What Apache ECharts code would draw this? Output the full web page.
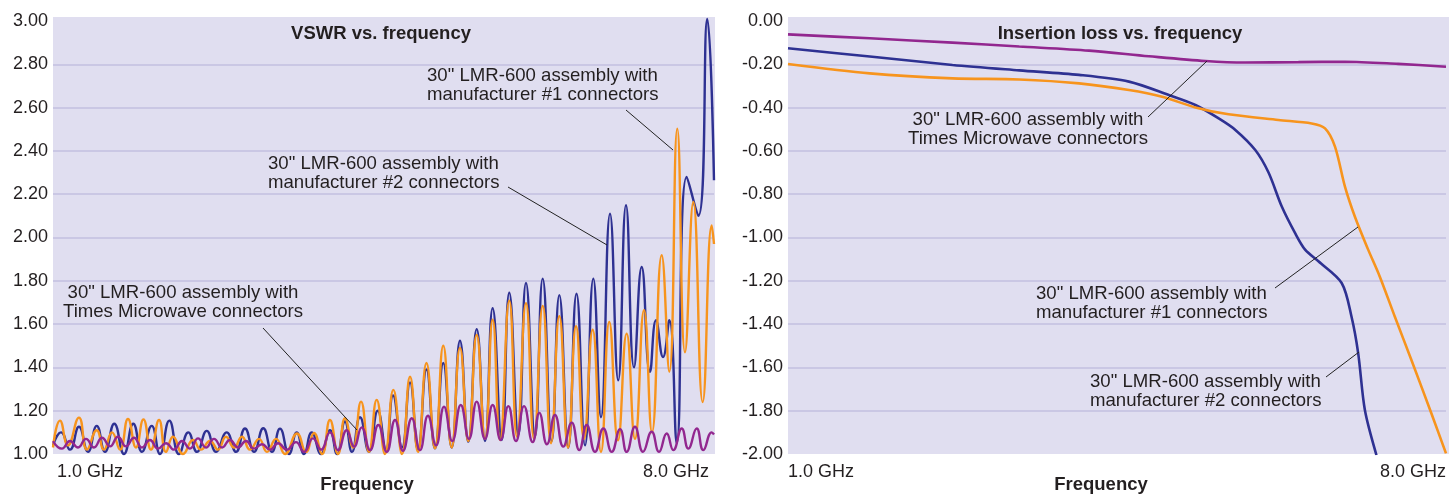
<!DOCTYPE html>
<html>
<head>
<meta charset="utf-8">
<script src="https://cdn.jsdelivr.net/npm/echarts@6/dist/echarts.min.js"></script>
<style>
html,body{margin:0;padding:0;background:#fff;}
#chart{width:1449px;height:495px;}
</style>
</head>
<body>
<div id="chart"></div>
<script>
// ---------- VSWR vs. frequency (left) ----------
// 30" LMR-600 assembly with manufacturer #2 connectors (navy)
const vswrMfr2Freq = [1.000,1.085,1.180,1.275,1.371,1.463,1.551,1.649,1.752,1.850,1.942,2.045,2.133,2.232,2.334,2.433,2.525,2.628,2.726,2.839,2.938,3.033,3.129,3.227,3.319,3.404,3.499,3.581,3.658,3.740,3.838,3.933,4.008,4.092,4.166,4.251,4.346,4.439,4.526,4.601,4.696,4.781,4.865,4.955,5.045,5.133,5.222,5.310,5.398,5.487,5.575,5.656,5.752,5.832,5.928,6.009,6.104,6.186,6.281,6.362,6.457,6.544,6.634,6.722,6.803,6.899,6.986,7.068,7.153,7.234,7.322,7.386,7.460,7.527,7.605,7.711,7.834,7.929,8.000];
const vswrMfr2 = [1.04,1.10,1.02,1.126,1.01,1.13,1.01,1.14,1.00,1.14,1.01,1.13,1.00,1.154,1.00,1.10,1.01,1.107,1.01,1.10,1.01,1.118,1.01,1.119,1.01,1.117,1.00,1.10,1.00,1.10,1.00,1.11,1.00,1.15,1.01,1.17,1.01,1.20,1.02,1.27,1.03,1.33,1.02,1.39,1.026,1.42,1.03,1.523,1.057,1.577,1.06,1.673,1.065,1.745,1.088,1.79,1.08,1.81,1.06,1.734,1.03,1.74,1.04,1.81,1.17,2.11,1.34,2.149,1.40,1.864,1.38,1.618,1.448,1.618,1.05,2.28,2.10,3.01,2.264];
// 30" LMR-600 assembly with manufacturer #1 connectors (orange)
const vswrMfr1Freq = [1.000,1.074,1.159,1.275,1.360,1.463,1.540,1.625,1.710,1.794,1.879,1.958,2.038,2.123,2.197,2.271,2.377,2.483,2.567,2.663,2.747,2.832,2.917,3.001,3.086,3.182,3.266,3.362,3.457,3.584,3.679,3.764,3.849,3.933,4.018,4.092,4.177,4.262,4.346,4.428,4.516,4.604,4.696,4.781,4.865,4.955,5.045,5.133,5.222,5.310,5.398,5.487,5.575,5.656,5.734,5.832,5.914,6.009,6.094,6.186,6.274,6.362,6.454,6.539,6.623,6.715,6.803,6.891,6.983,7.075,7.163,7.259,7.343,7.446,7.527,7.611,7.693,7.781,7.880,7.976,8.000];
const vswrMfr1 = [1.03,1.154,1.04,1.168,1.02,1.11,1.02,1.10,1.02,1.162,1.03,1.16,1.02,1.157,1.01,1.08,1.00,1.065,1.02,1.06,1.02,1.08,1.03,1.08,1.02,1.07,1.01,1.07,1.00,1.095,1.01,1.097,1.00,1.157,1.00,1.165,1.03,1.242,1.01,1.25,1.00,1.296,1.00,1.357,1.01,1.42,1.026,1.50,1.03,1.49,1.06,1.55,1.07,1.62,1.065,1.708,1.08,1.696,1.07,1.684,1.05,1.637,1.03,1.59,1.07,1.574,1.01,1.61,1.063,1.556,1.07,1.664,1.10,1.918,1.38,2.503,1.47,2.164,1.24,2.056,1.97];
// 30" LMR-600 assembly with Times Microwave connectors (purple)
const vswrTimesFreq = [1.000,1.095,1.180,1.265,1.349,1.434,1.519,1.604,1.688,1.773,1.858,1.942,2.027,2.112,2.197,2.281,2.366,2.451,2.536,2.620,2.705,2.790,2.874,2.959,3.044,3.129,3.213,3.298,3.383,3.478,3.573,3.658,3.753,3.838,3.933,4.018,4.110,4.188,4.269,4.357,4.445,4.534,4.622,4.706,4.799,4.886,4.971,5.056,5.141,5.229,5.318,5.405,5.487,5.575,5.656,5.741,5.822,5.903,5.988,6.080,6.150,6.231,6.316,6.404,6.493,6.573,6.652,6.740,6.828,6.917,7.005,7.075,7.163,7.248,7.340,7.418,7.499,7.569,7.658,7.728,7.817,7.887,7.976,8.000];
const vswrTimes = [1.06,1.025,1.06,1.03,1.07,1.03,1.075,1.035,1.08,1.035,1.075,1.03,1.065,1.025,1.05,1.02,1.06,1.025,1.072,1.03,1.07,1.03,1.065,1.03,1.06,1.025,1.045,1.02,1.05,1.02,1.055,1.01,1.072,1.02,1.10,1.018,1.11,1.034,1.123,1.018,1.134,1.01,1.157,1.015,1.165,1.018,1.177,1.04,1.218,1.06,1.226,1.07,1.242,1.07,1.226,1.065,1.221,1.06,1.221,1.055,1.19,1.045,1.18,1.034,1.145,1.018,1.134,1.01,1.118,1.01,1.115,1.01,1.126,1.01,1.103,1.01,1.095,1.018,1.118,1.025,1.118,1.018,1.10,1.09];

// ---------- Insertion loss vs. frequency (right) ----------
const ilTimesFreq = [1.000,1.870,2.750,3.460,4.203,4.839,5.441,5.865,6.430,6.925,7.490,8.000];
const ilTimes = [-0.062,-0.080,-0.100,-0.118,-0.137,-0.163,-0.185,-0.192,-0.190,-0.188,-0.198,-0.211];
const ilMfr2Freq = [1.000,1.870,2.750,3.460,4.097,4.627,5.051,5.334,5.582,5.759,5.971,6.112,6.253,6.395,6.501,6.643,6.890,6.995,7.066,7.137,7.260];
const ilMfr2 = [-0.126,-0.164,-0.203,-0.228,-0.249,-0.280,-0.342,-0.388,-0.450,-0.503,-0.596,-0.700,-0.857,-0.980,-1.056,-1.110,-1.210,-1.366,-1.535,-1.797,-2.005];
const ilMfr1Freq = [1.000,1.870,2.750,3.460,4.097,4.627,4.980,5.334,5.687,6.217,6.571,6.713,6.819,6.925,7.031,7.172,7.296,7.456,7.632,7.844,8.000];
const ilMfr1 = [-0.199,-0.242,-0.265,-0.270,-0.288,-0.319,-0.350,-0.399,-0.431,-0.457,-0.473,-0.496,-0.580,-0.765,-0.904,-1.056,-1.181,-1.366,-1.566,-1.812,-1.997];

const xTicks = [1.0, 8.0];
const vswrTicks = {min: 1.0, max: 3.0, step: 0.2};
const ilTicks = {min: -2.0, max: 0.0, step: 0.2};

const zip = (xs, ys) => xs.map((x, i) => [x, ys[i]]);

const NAVY = '#2e3192', ORANGE = '#f7941d', PURPLE = '#92278f';
const TXT = '#231f20';
const FONT = '"Liberation Sans", Arial, Helvetica, sans-serif';
const BG = '#e0def0', GRIDC = '#c3bfe1';

const chart = echarts.init(document.getElementById('chart'), null, {renderer: 'canvas'});

function xAxisCfg(gi, pad) {
  return {
    type: 'value', gridIndex: gi, min: xTicks[0], max: xTicks[1], interval: xTicks[1] - xTicks[0],
    axisLine: {show: false}, axisTick: {show: false}, splitLine: {show: false},
    axisLabel: {formatter: v => v.toFixed(1) + ' GHz', fontSize: 18, color: TXT, fontFamily: FONT,
      margin: 9, alignMinLabel: 'left', alignMaxLabel: 'right', padding: pad}
  };
}
function yAxisCfg(gi, t) {
  return {
    type: 'value', gridIndex: gi, min: t.min, max: t.max, interval: t.step,
    axisLine: {show: false}, axisTick: {show: false},
    splitLine: {show: true, showMinLine: false, showMaxLine: false, lineStyle: {color: GRIDC, width: 1.5}},
    axisLabel: {formatter: v => v.toFixed(2), fontSize: 18, color: TXT, fontFamily: FONT, margin: 5}
  };
}
function lineSeries(name, data, color, xi, smooth, width) {
  return {
    type: 'line', name, data, xAxisIndex: xi, yAxisIndex: xi, smooth, showSymbol: false,
    symbol: 'none', clip: xi === 1, lineStyle: {color, width}, itemStyle: {color}, z: 3
  };
}

const textStyle = (extra) => Object.assign({font: '18.6px ' + FONT, fill: TXT, lineHeight: 19}, extra);
const leader = (x1, y1, x2, y2) => ({type: 'line', z: 50, silent: true,
  shape: {x1, y1, x2, y2}, style: {stroke: '#222', lineWidth: 1}});
const note = (x, y, text, align) => ({type: 'text', z: 60, silent: true, x, y,
  style: textStyle({text, textAlign: align || 'left', textVerticalAlign: 'top'})});
const heading = (x, y, text) => ({type: 'text', z: 60, silent: true, x, y,
  style: textStyle({text, font: 'bold 18.5px ' + FONT, textAlign: 'center', textVerticalAlign: 'middle'})});

const option = {
  animation: false,
  backgroundColor: '#fff',
  grid: [
    {left: 53, top: 21, width: 661, height: 433},
    {left: 788, top: 21, width: 660, height: 433}
  ],
  xAxis: [xAxisCfg(0, [0, 5, 0, 4]), xAxisCfg(1, 0)],
  yAxis: [yAxisCfg(0, vswrTicks), yAxisCfg(1, ilTicks)],
  series: [
    lineSeries('mfr2', zip(vswrMfr2Freq, vswrMfr2), NAVY, 0, 0.5, 2.4),
    lineSeries('mfr1', zip(vswrMfr1Freq, vswrMfr1), ORANGE, 0, 0.5, 2.4),
    lineSeries('times', zip(vswrTimesFreq, vswrTimes), PURPLE, 0, 0.5, 2.4),
    lineSeries('mfr2', zip(ilMfr2Freq, ilMfr2), NAVY, 1, 0.3, 2.6),
    lineSeries('mfr1', zip(ilMfr1Freq, ilMfr1), ORANGE, 1, 0.3, 2.6),
    lineSeries('times', zip(ilTimesFreq, ilTimes), PURPLE, 1, 0.3, 2.6)
  ],
  graphic: [
    {type: 'rect', z: -10, silent: true, shape: {x: 53, y: 17, width: 662, height: 437}, style: {fill: BG}},
    {type: 'rect', z: -10, silent: true, shape: {x: 788, y: 17, width: 661, height: 437}, style: {fill: BG}},
    heading(381, 34, 'VSWR vs. frequency'),
    heading(1120, 34, 'Insertion loss vs. frequency'),
    heading(367, 485, 'Frequency'),
    heading(1101, 485, 'Frequency'),
    // left annotations
    note(427, 66.5, '30" LMR-600 assembly with\nmanufacturer #1 connectors'),
    leader(626, 110, 673, 150),
    note(268, 154.5, '30" LMR-600 assembly with\nmanufacturer #2 connectors'),
    leader(508, 187, 607, 245),
    note(183, 283.5, '30" LMR-600 assembly with\nTimes Microwave connectors', 'center'),
    leader(263, 328, 357, 430),
    // right annotations
    note(1028, 110.5, '30" LMR-600 assembly with\nTimes Microwave connectors', 'center'),
    leader(1148, 117, 1207, 61),
    note(1036, 284.5, '30" LMR-600 assembly with\nmanufacturer #1 connectors'),
    leader(1275, 288, 1358, 227),
    note(1090, 372.5, '30" LMR-600 assembly with\nmanufacturer #2 connectors'),
    leader(1326, 377, 1359, 352)
  ]
};
chart.setOption(option);
</script>
</body>
</html>
